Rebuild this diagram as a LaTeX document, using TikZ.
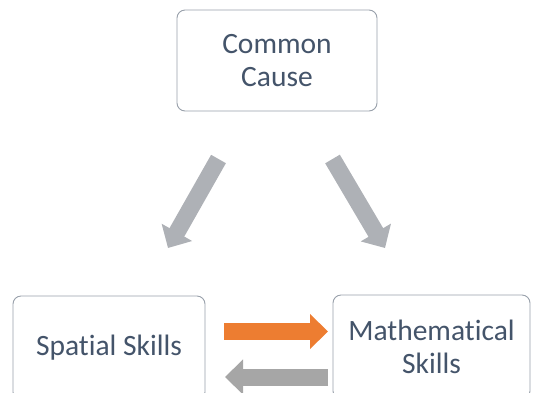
\documentclass[tikz,border=0pt]{standalone}
\usepackage{fontspec}
\setmainfont{Carlito}[Ligatures=NoCommon]
\usetikzlibrary{arrows.meta}
\definecolor{txt}{HTML}{44546A}
\definecolor{boxline}{HTML}{98A0AA}
\definecolor{diag}{HTML}{AEB1B6}
\definecolor{back}{HTML}{A6A6A6}
\definecolor{orng}{HTML}{ED7D31}
\tikzset{
  box/.style={draw=boxline, line width=0.9pt, rounded corners=8pt, fill=white,
    text=txt, align=center, font=\fontsize{29.5}{33}\selectfont, inner sep=0pt},
  fatarrow/.style={line width=17pt, -{Triangle[length=18pt,width=34pt]}},
}
\begin{document}
\begin{tikzpicture}[x=1pt,y=-1pt]
\useasboundingbox (0,0) rectangle (536,392);
\node[box, minimum width=200pt, minimum height=101pt] (cc) at (277,60.5) {Common\\Cause};
\node[box, minimum width=192pt, minimum height=104pt] (sp) at (109,348) {Spatial Skills};
\node[box, minimum width=197pt, minimum height=104pt] (ma) at (431.5,347) {Mathematical\\Skills};
\coordinate (l1) at (218.5,159);
\coordinate (l2) at (168,248);
\coordinate (r1) at (332.5,159);
\coordinate (r2) at (385,248);
\coordinate (o1) at (224,331.5);
\coordinate (o2) at (328,331.5);
\coordinate (g1) at (328,377);
\coordinate (g2) at (225,377);
\draw[fatarrow, draw=diag, fill=diag] (l1) -- (l2);
\draw[fatarrow, draw=diag, fill=diag] (r1) -- (r2);
\draw[fatarrow, draw=orng, fill=orng] (o1) -- (o2);
\draw[fatarrow, draw=back, fill=back] (g1) -- (g2);
\end{tikzpicture}
\end{document}
